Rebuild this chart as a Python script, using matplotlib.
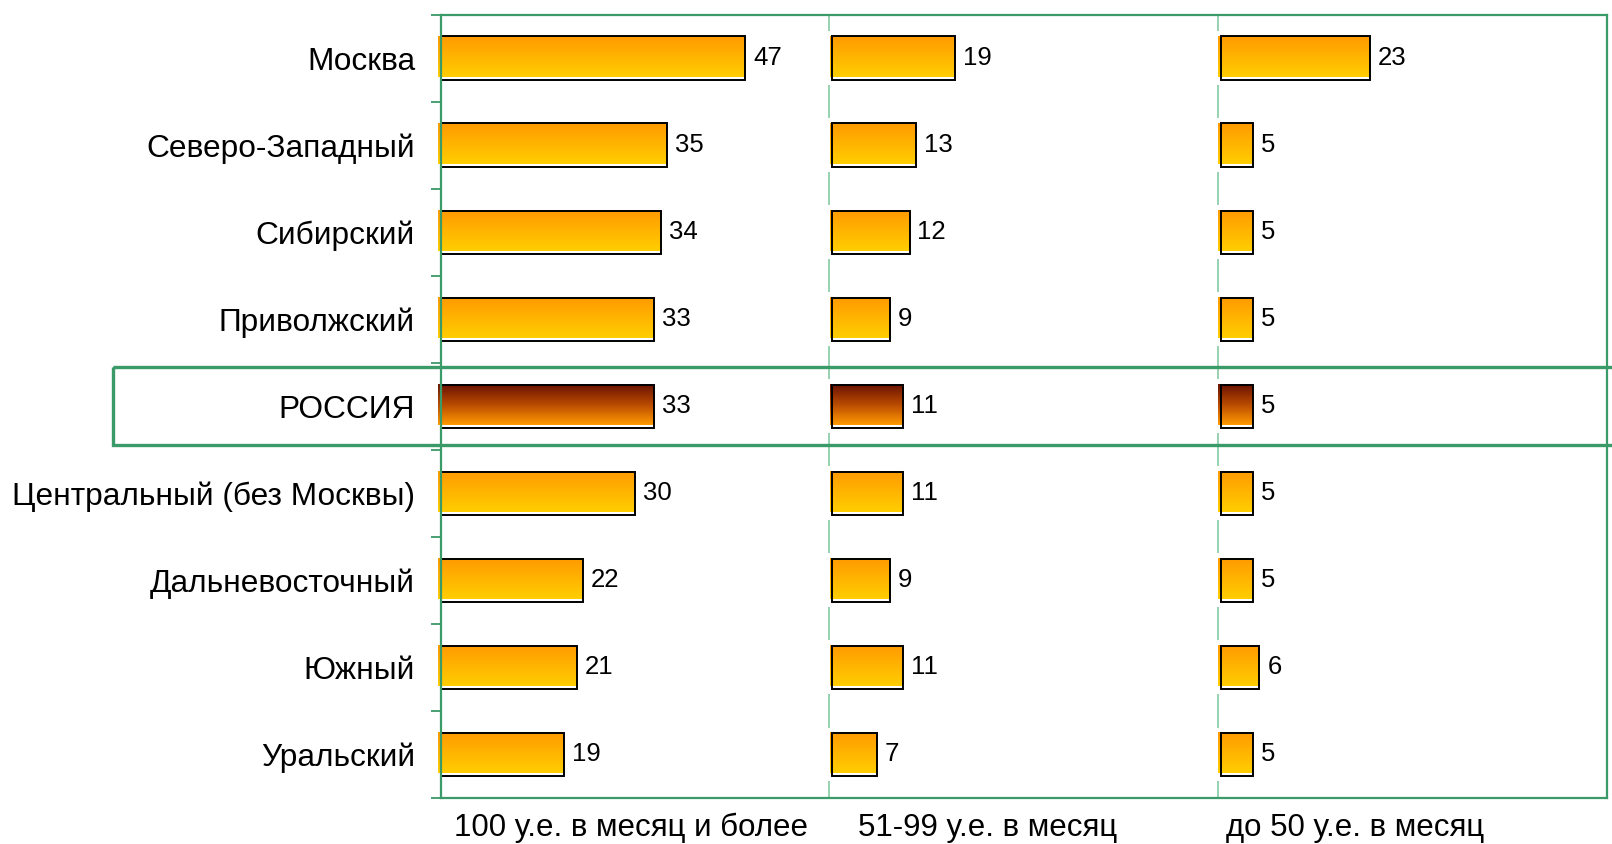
import numpy as np
import matplotlib
matplotlib.use("Agg")
import matplotlib.pyplot as plt
from matplotlib.colors import LinearSegmentedColormap
from matplotlib.patches import Rectangle
from matplotlib.transforms import blended_transform_factory

# ---------------- data ----------------
regions = ["Москва", "Северо-Западный", "Сибирский", "Приволжский", "РОССИЯ",
           "Центральный (без Москвы)", "Дальневосточный", "Южный", "Уральский"]
income_groups = ["100 у.е. в месяц и более", "51-99 у.е. в месяц", "до 50 у.е. в месяц"]
high_income = [47, 35, 34, 33, 33, 30, 22, 21, 19]
mid_income = [19, 13, 12, 9, 11, 11, 9, 11, 7]
low_income = [23, 5, 5, 5, 5, 5, 5, 6, 5]
highlight = "РОССИЯ"

# ---------------- style ----------------
plt.rcParams["font.family"] = ["Liberation Sans", "DejaVu Sans"]
GREEN = "#3A9A68"
LIGHT_GREEN = "#8FCFAA"
cmap_normal = LinearSegmentedColormap.from_list("n", ["#FF9A00", "#FFCE00"])
cmap_russia = LinearSegmentedColormap.from_list("r", ["#6A1200", "#B84A00", "#FF9A00"])

W, H = 1612, 844
fig = plt.figure(figsize=(W / 100, H / 100), dpi=100)
ax = fig.add_axes([440.7 / W, 1 - 798 / H, (1606.7 - 440.7) / W, (798 - 14.7) / H])

panel_width = 60
offsets = [0, 60.4, 120.4]
bar_h = 0.5
grad = np.linspace(0, 1, 64).reshape(-1, 1)

series = [high_income, mid_income, low_income]
for p, vals in enumerate(series):
    off = offsets[p]
    for i, (reg, v) in enumerate(zip(regions, vals)):
        cmap = cmap_russia if reg == highlight else cmap_normal
        top = i - bar_h / 2
        bot = i + bar_h / 2
        # white halo (hides divider line behind bar)
        if p > 0:
            ax.add_patch(Rectangle((off - 0.6, top - 0.06), v + 0.6, bar_h + 0.12,
                                   facecolor="white", edgecolor="none", zorder=2))
        # gradient fill
        ax.imshow(grad, cmap=cmap, aspect="auto", origin="upper",
                  extent=(off - 0.35, off + v, bot - 0.035, top),
                  zorder=3, clip_on=False, interpolation="bilinear")
        # outline
        ax.add_patch(Rectangle((off, top), v, bar_h, fill=False,
                               edgecolor="black", linewidth=1.4, zorder=4, clip_on=False))
        ax.text(off + v + 1.2, i, str(v), va="center", ha="left", fontsize=18.5, zorder=5)

for xd in [panel_width, 2 * panel_width]:
    ax.axvline(xd, color=LIGHT_GREEN, linewidth=1.3, zorder=1)

ax.set_xlim(0, 3 * panel_width)
ax.set_ylim(len(regions) - 0.5, -0.5)

for s in ax.spines.values():
    s.set_color(GREEN)
    s.set_linewidth(1.6)
    s.set_zorder(6)

ax.set_xticks([])
ax.set_yticks(range(len(regions)))
ax.set_yticklabels(regions, fontsize=22.8)
ax.set_yticks(np.arange(-0.5, len(regions)), minor=True)
ax.tick_params(axis="y", which="major", length=0, pad=18.5)
ax.tick_params(axis="y", which="minor", length=7.5, width=1.3, color=GREEN, direction="out")

# bottom panel labels
label_x = [631, 988, 1355]
for lx, lab in zip(label_x, income_groups):
    fig.text(lx / W, 1 - 828 / H, lab, ha="center", va="center", fontsize=22.5)

# highlight box around the РОССИЯ row
ri = regions.index(highlight)
tr = blended_transform_factory(fig.transFigure, ax.transData)
box = Rectangle((113.3 / W, ri - 0.447), 1.02 - 113.3 / W, 0.894, transform=tr,
                fill=False, edgecolor=GREEN, linewidth=2.4, zorder=7, clip_on=False)
fig.add_artist(box)

fig.savefig("out.png", dpi=100)
